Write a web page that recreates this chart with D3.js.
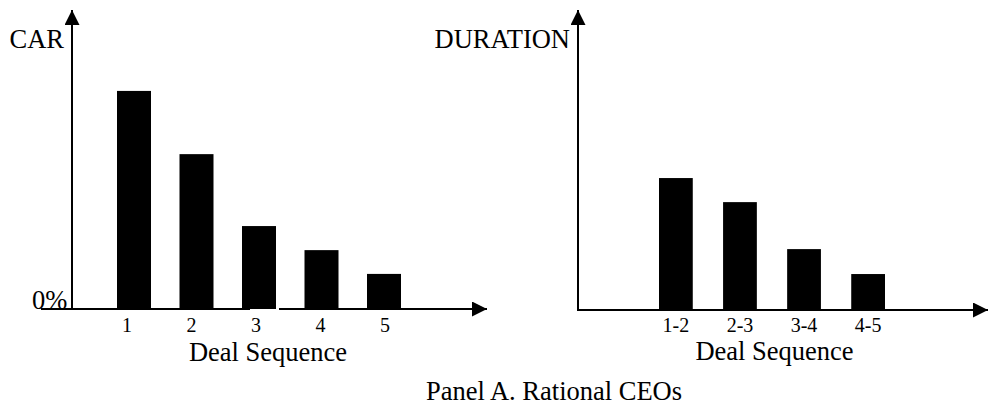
<!DOCTYPE html>
<html lang="en">
<head>
<meta charset="UTF-8">
<title>Panel A. Rational CEOs</title>
<script src="https://d3js.org/d3.v7.min.js"></script>
<style>
    body { margin: 0; background: #fff; }
    text { font-family: "Liberation Serif", "Times New Roman", serif; fill: #000; }
    .axis-line { stroke: #000; stroke-width: 2; }
    .bar { fill: #000; }
</style>
</head>
<body>
<svg id="chart"></svg>
<script>
    const width = 988;
    const height = 406;

    // data (bar heights in arbitrary units)
    const carLabels = ['1', '2', '3', '4', '5'];
    const carValues = [7.52, 5.34, 2.86, 2.03, 1.21];
    const durLabels = ['1-2', '2-3', '3-4', '4-5'];
    const durValues = [4.55, 3.72, 2.10, 1.24];

    const svg = d3.select('#chart')
        .attr('width', width)
        .attr('height', height);

    // arrow head marker
    svg.append('defs').append('marker')
        .attr('id', 'arrow')
        .attr('viewBox', '0 0 10 10')
        .attr('refX', 10).attr('refY', 5)
        .attr('markerWidth', 7.5).attr('markerHeight', 7.5)
        .attr('markerUnits', 'strokeWidth')
        .attr('orient', 'auto')
        .append('path')
        .attr('d', 'M0,0 L10,5 L0,10 Z')
        .attr('fill', '#000');

    function drawPanel(opts) {
        const g = svg.append('g');
        const y = d3.scaleLinear().domain([0, 10]).range([opts.base, opts.base - 290]);

        const x = d3.scaleBand()
            .domain(opts.labels)
            .range(opts.barRange)
            .paddingInner(opts.padding)
            .paddingOuter(0);

        g.selectAll('.bar')
            .data(opts.values)
            .enter().append('rect')
            .attr('class', 'bar')
            .attr('x', (d, i) => x(opts.labels[i]))
            .attr('y', d => y(d))
            .attr('width', x.bandwidth())
            .attr('height', d => y(0) - y(d));

        // x axis (possibly in pieces)
        opts.xSegments.forEach((s, i) => {
            const line = g.append('line')
                .attr('class', 'axis-line')
                .attr('x1', s[0]).attr('x2', s[1])
                .attr('y1', y(0)).attr('y2', y(0));
            if (i === opts.xSegments.length - 1) line.attr('marker-end', 'url(#arrow)');
        });

        // y axis
        g.append('line')
            .attr('class', 'axis-line')
            .attr('x1', opts.yAxisX).attr('x2', opts.yAxisX)
            .attr('y1', y(0) + 1).attr('y2', 10)
            .attr('marker-end', 'url(#arrow)');

        const lx = opts.labelScale || (d => x(d) + x.bandwidth() / 2);
        g.selectAll('.tick-label')
            .data(opts.labels)
            .enter().append('text')
            .attr('class', 'tick-label')
            .attr('x', d => lx(d))
            .attr('y', 332)
            .attr('text-anchor', 'middle')
            .style('font-size', '20px')
            .text(d => d);

        g.append('text')
            .attr('x', opts.titleX)
            .attr('y', opts.titleY)
            .attr('text-anchor', 'middle')
            .style('font-size', '26.5px')
            .text('Deal Sequence');

        g.append('text')
            .attr('x', opts.yAxisX - 8)
            .attr('y', 48)
            .attr('text-anchor', 'end')
            .style('font-size', '26.5px')
            .text(opts.yTitle);

        return g;
    }

    const carLabelX = d3.scalePoint().domain(carLabels).range([127, 385]);

    const left = drawPanel({
        labels: carLabels,
        values: carValues,
        base: 309,
        barRange: [117, 401],
        padding: 0.456,
        xSegments: [[41, 250], [279, 487]],
        yAxisX: 72,
        yTitle: 'CAR',
        titleX: 268,
        titleY: 361,
        labelScale: carLabelX
    });

    left.append('text')
        .attr('x', 32)
        .attr('y', 309)
        .style('font-size', '26.5px')
        .text('0%');

    drawPanel({
        labels: durLabels,
        values: durValues,
        base: 310,
        barRange: [659, 885],
        padding: 0.473,
        xSegments: [[578, 988]],
        yAxisX: 578,
        yTitle: 'DURATION',
        titleX: 774.5,
        titleY: 360
    });

    svg.append('text')
        .attr('x', 554)
        .attr('y', 400)
        .attr('text-anchor', 'middle')
        .style('font-size', '26.5px')
        .text('Panel A. Rational CEOs');
</script>
</body>
</html>
